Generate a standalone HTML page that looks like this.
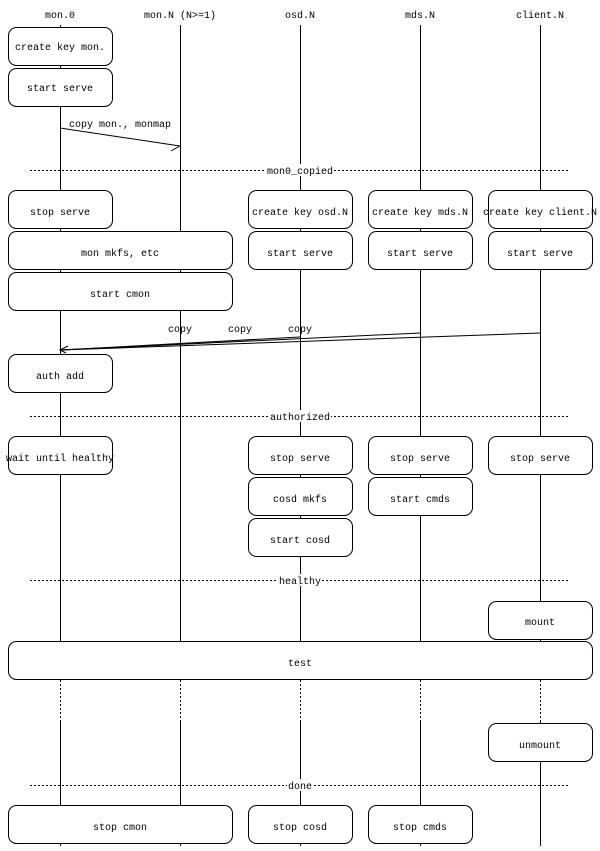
<!DOCTYPE html>
<html><head><meta charset="utf-8"><style>
html,body{margin:0;padding:0;background:#fff;}
svg text{font-family:"Liberation Mono","DejaVu Sans Mono",monospace;font-size:10px;fill:#000;}
</style></head><body>
<svg width="600" height="846" xmlns="http://www.w3.org/2000/svg">
<g stroke="#000" stroke-width="1" fill="none">
<line x1="60.5" y1="25" x2="60.5" y2="680"/><line x1="60.5" y1="720" x2="60.5" y2="846"/>
<line x1="180.5" y1="25" x2="180.5" y2="680"/><line x1="180.5" y1="720" x2="180.5" y2="846"/>
<line x1="300.5" y1="25" x2="300.5" y2="680"/><line x1="300.5" y1="720" x2="300.5" y2="846"/>
<line x1="420.5" y1="25" x2="420.5" y2="680"/><line x1="420.5" y1="720" x2="420.5" y2="846"/>
<line x1="540.5" y1="25" x2="540.5" y2="680"/><line x1="540.5" y1="720" x2="540.5" y2="846"/>
<g stroke-dasharray="2,2">
<line x1="60.5" y1="680" x2="60.5" y2="720"/><line x1="180.5" y1="680" x2="180.5" y2="720"/>
<line x1="300.5" y1="680" x2="300.5" y2="720"/><line x1="420.5" y1="680" x2="420.5" y2="720"/>
<line x1="540.5" y1="680" x2="540.5" y2="720"/>
<line x1="30" y1="170.5" x2="570" y2="170.5"/>
<line x1="30" y1="416.5" x2="570" y2="416.5"/>
<line x1="30" y1="580.5" x2="570" y2="580.5"/>
<line x1="30" y1="785.5" x2="570" y2="785.5"/>
</g>
<line x1="60" y1="128" x2="180" y2="146"/>
<polyline points="171,151 180,146"/>
<line x1="540" y1="333" x2="60" y2="350"/>
<line x1="420" y1="333" x2="60" y2="350"/>
<line x1="300" y1="337" x2="60" y2="350"/>
<polyline points="66,353 60,350 68,346"/>
</g>
<g fill="#fff">
<rect x="266" y="164" width="68" height="12"/>
<rect x="269" y="410" width="62" height="12"/>
<rect x="278" y="574" width="44" height="12"/>
<rect x="287" y="779" width="26" height="12"/>
</g>
<g fill="#fff" stroke="#000" stroke-width="1">
<rect x="8.5" y="27.5" width="104" height="38" rx="8"/>
<rect x="8.5" y="68.5" width="104" height="38" rx="8"/>
<rect x="8.5" y="190.5" width="104" height="38" rx="8"/>
<rect x="248.5" y="190.5" width="104" height="38" rx="8"/>
<rect x="368.5" y="190.5" width="104" height="38" rx="8"/>
<rect x="488.5" y="190.5" width="104" height="38" rx="8"/>
<rect x="8.5" y="231.5" width="224" height="38" rx="8"/>
<rect x="248.5" y="231.5" width="104" height="38" rx="8"/>
<rect x="368.5" y="231.5" width="104" height="38" rx="8"/>
<rect x="488.5" y="231.5" width="104" height="38" rx="8"/>
<rect x="8.5" y="272.5" width="224" height="38" rx="8"/>
<rect x="8.5" y="354.5" width="104" height="38" rx="8"/>
<rect x="8.5" y="436.5" width="104" height="38" rx="8"/>
<rect x="248.5" y="436.5" width="104" height="38" rx="8"/>
<rect x="368.5" y="436.5" width="104" height="38" rx="8"/>
<rect x="488.5" y="436.5" width="104" height="38" rx="8"/>
<rect x="248.5" y="477.5" width="104" height="38" rx="8"/>
<rect x="368.5" y="477.5" width="104" height="38" rx="8"/>
<rect x="248.5" y="518.5" width="104" height="38" rx="8"/>
<rect x="488.5" y="601.5" width="104" height="38" rx="8"/>
<rect x="8.5" y="641.5" width="584" height="38" rx="8"/>
<rect x="488.5" y="723.5" width="104" height="38" rx="8"/>
<rect x="8.5" y="805.5" width="224" height="38" rx="8"/>
<rect x="248.5" y="805.5" width="104" height="38" rx="8"/>
<rect x="368.5" y="805.5" width="104" height="38" rx="8"/>
</g>
<g text-anchor="middle">
<text x="60" y="18">mon.0</text><text x="180" y="18">mon.N (N&gt;=1)</text>
<text x="300" y="18">osd.N</text><text x="420" y="18">mds.N</text><text x="540" y="18">client.N</text>
<text x="60" y="50">create key mon.</text>
<text x="60" y="91">start serve</text>
<text x="300" y="174">mon0_copied</text>
<text x="60" y="215">stop serve</text>
<text x="300" y="215">create key osd.N</text>
<text x="420" y="215">create key mds.N</text>
<text x="540" y="215">create key client.N</text>
<text x="120" y="256">mon mkfs, etc</text>
<text x="300" y="256">start serve</text><text x="420" y="256">start serve</text><text x="540" y="256">start serve</text>
<text x="120" y="297">start cmon</text>
<text x="180" y="332">copy</text><text x="240" y="332">copy</text><text x="300" y="332">copy</text>
<text x="60" y="379">auth add</text>
<text x="300" y="420">authorized</text>
<text x="60" y="461">wait until healthy</text>
<text x="300" y="461">stop serve</text><text x="420" y="461">stop serve</text><text x="540" y="461">stop serve</text>
<text x="300" y="502">cosd mkfs</text><text x="420" y="502">start cmds</text>
<text x="300" y="543">start cosd</text>
<text x="300" y="584">healthy</text>
<text x="540" y="625">mount</text>
<text x="300" y="666">test</text>
<text x="540" y="748">unmount</text>
<text x="300" y="789">done</text>
<text x="120" y="830">stop cmon</text><text x="300" y="830">stop cosd</text><text x="420" y="830">stop cmds</text>
</g>
<text x="69" y="127">copy mon., monmap</text>
</svg>
</body></html>
